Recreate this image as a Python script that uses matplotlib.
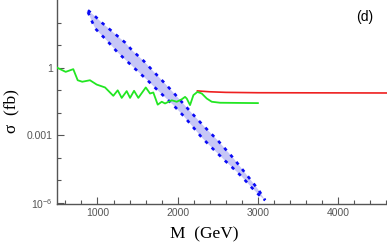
import matplotlib
matplotlib.use("Agg")
import matplotlib.pyplot as plt
import numpy as np
from matplotlib.ticker import FixedLocator, FixedFormatter, NullFormatter

# green curve
green_M = [500, 603, 698, 753, 810, 906, 990, 1094, 1197, 1252, 1302, 1364, 1406, 1456, 1509,
           1602, 1655, 1696, 1751, 1801, 1842, 1926, 1988, 2051, 2092, 2113, 2154, 2196, 2246,
           2300, 2363, 2425, 2529, 3000]
green_sigma = [1.0, 0.66, 0.87, 0.28, 0.24, 0.28, 0.18, 0.134, 0.057, 0.10, 0.046, 0.092, 0.046, 0.095, 0.046,
               0.134, 0.072, 0.080, 0.023, 0.031, 0.026, 0.036, 0.031, 0.040, 0.051, 0.043, 0.022, 0.061, 0.085,
               0.072, 0.043, 0.031, 0.028, 0.027]

# red curve
red_M = [2246, 2400, 2600, 3000, 4600]
red_sigma = [0.094, 0.086, 0.081, 0.078, 0.076]

# blue band, upper and lower edge
upper_M = [881, 973, 1056, 1202, 1347, 1431, 1577, 1696, 1842, 1967, 2154, 2300, 2508, 2695, 2882, 3007, 3090]
upper_sigma = [360, 190, 100, 36, 13, 6.0, 2.0, 0.70, 0.20, 0.066, 0.0118, 0.0032, 5.5e-4, 9.6e-5,
               1.4e-5, 3.8e-6, 1.3e-6]
lower_M = [881, 931, 973, 1119, 1243, 1347, 1472, 1614, 1739, 1946, 2071, 2176, 2300, 2445, 2591, 2675,
           2800, 2924, 3028, 3090]
lower_sigma = [300, 115, 55, 16, 5.2, 2.3, 0.88, 0.30, 0.11, 0.022, 0.0074, 0.0027, 0.0008, 2.4e-4, 7.4e-5,
               3.9e-5, 1.45e-5, 4.7e-6, 2.0e-6, 1.3e-6]

xticks = [1000, 2000, 3000, 4000]
yticks = [1, 1e-3, 1e-6]
ytick_labels = ['1', '0.001', r'$10^{-6}$']

plt.rcParams['mathtext.default'] = 'regular'
grey = '#555555'

fig = plt.figure(figsize=(3.87, 2.45), dpi=100)
ax = fig.add_axes([57/387, 1 - 204.3/245, 330/387, 204.3/245])

ax.fill(upper_M + lower_M[::-1], upper_sigma + lower_sigma[::-1], color='#c6c6f6', lw=0, zorder=1)
ax.plot(upper_M, upper_sigma, color='#0a0af5', lw=1.9, ls=(0, (1.3, 2.2)), zorder=2)
ax.plot(lower_M, lower_sigma, color='#0a0af5', lw=1.9, ls=(0, (1.3, 2.2)), zorder=2)
ax.plot(red_M, red_sigma, color='#ee2020', lw=1.2, zorder=3)
ax.plot(green_M, green_sigma, color='#22e622', lw=1.3, zorder=4)

ax.set_yscale('log')
ax.set_xlim(495, 4610)
ax.set_ylim(8.6e-7, 1030)

for s in ['top', 'right']:
    ax.spines[s].set_visible(False)
for s in ['left', 'bottom']:
    ax.spines[s].set_color(grey)
    ax.spines[s].set_linewidth(1.0)

ax.xaxis.set_major_locator(FixedLocator(xticks))
ax.xaxis.set_minor_locator(FixedLocator(np.arange(600, 4601, 200)))
ax.yaxis.set_major_locator(FixedLocator(yticks))
ax.yaxis.set_major_formatter(FixedFormatter(ytick_labels))
ax.yaxis.set_minor_locator(FixedLocator([10.0**k for k in range(-6, 3)]))
ax.yaxis.set_minor_formatter(NullFormatter())
ax.tick_params(which='both', direction='in', color=grey, labelcolor=grey, labelsize=7.5, pad=3)
ax.tick_params(which='major', length=5, width=0.8)
ax.tick_params(which='minor', length=3, width=0.8)
for lab in ax.get_xticklabels() + ax.get_yticklabels():
    lab.set_family('Liberation Sans')

fig.text(204/387, 1 - 234/245, 'M  (GeV)', family='Liberation Serif', fontsize=12.5,
         ha='center', va='center')
fig.text(11/387, 1 - 111/245, u'\u03c3  (fb)', family='Liberation Serif', fontsize=12.5,
         rotation=90, ha='center', va='center')
ax.text(365/387, 1 - 17/245, '(d)', transform=fig.transFigure, family='Liberation Sans',
        fontsize=10, ha='center', va='center')

fig.savefig('out.png', dpi=100)
